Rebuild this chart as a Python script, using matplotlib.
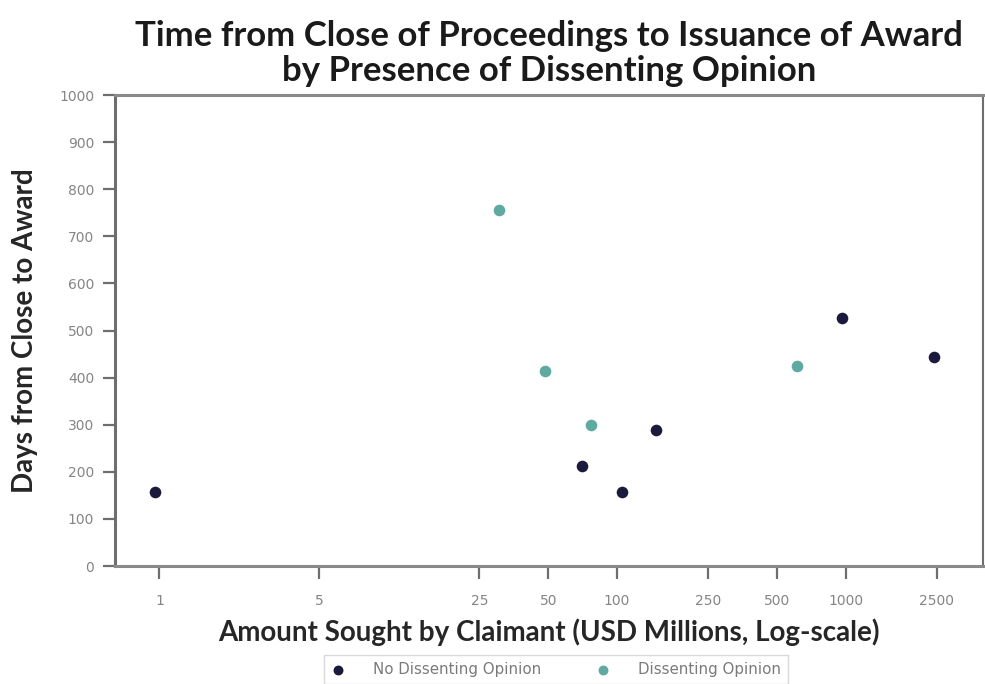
import matplotlib
matplotlib.use("Agg")
import matplotlib.pyplot as plt
from matplotlib.ticker import FixedLocator, FixedFormatter, NullLocator

# Awards without a dissenting opinion
no_dissent_amount = [0.96, 70, 105, 148, 960, 2420]
no_dissent_days = [158, 213, 158, 288, 526, 444]

# Awards with a dissenting opinion
dissent_amount = [30.5, 48.5, 77, 610]
dissent_days = [755, 413, 300, 425]

x_ticks = [1, 5, 25, 50, 100, 250, 500, 1000, 2500]
x_tick_labels = ["1", "5", "25", "50", "100", "250", "500", "1000", "2500"]
y_ticks = list(range(0, 1001, 100))

navy = "#1b1a3c"
teal = "#5fa9a1"
small_font = ["DejaVu Sans"]

plt.rcParams["font.family"] = ["Lato", "DejaVu Sans"]

fig = plt.figure(figsize=(9.85, 6.84), dpi=100)
ax = fig.add_axes([0.1168, 0.1725, 0.881, 0.6886])

ax.scatter(no_dissent_amount, no_dissent_days, s=70, color=navy,
           label="No Dissenting Opinion", zorder=3, linewidths=0)
ax.scatter(dissent_amount, dissent_days, s=70, color=teal,
           label="Dissenting Opinion", zorder=3, linewidths=0)

ax.set_xscale("log")
ax.set_xlim(0.64, 3965)
ax.set_ylim(0, 1000)
ax.xaxis.set_major_locator(FixedLocator(x_ticks))
ax.xaxis.set_major_formatter(FixedFormatter(x_tick_labels))
ax.xaxis.set_minor_locator(NullLocator())
ax.set_yticks(y_ticks)

for side in ["top", "bottom"]:
    ax.spines[side].set_color("#8a8a8a")
    ax.spines[side].set_linewidth(2.2)
ax.spines["left"].set_color("#6e6e6e")
ax.spines["left"].set_linewidth(2.2)
ax.spines["right"].set_color("#6e6e6e")
ax.spines["right"].set_linewidth(1.5)

ax.tick_params(axis="both", which="major", length=9, width=1.6,
               color="#6e6e6e", labelsize=10, labelcolor="#858585")
ax.tick_params(axis="y", pad=6)
ax.tick_params(axis="x", pad=11)
for lab in ax.get_xticklabels() + ax.get_yticklabels():
    lab.set_family(small_font)

ax.set_title("Time from Close of Proceedings to Issuance of Award\n"
             "by Presence of Dissenting Opinion",
             fontsize=25, fontweight="bold", color="#1a1a1a",
             linespacing=1.12, pad=10)
ax.set_xlabel("Amount Sought by Claimant (USD Millions, Log-scale)",
              fontsize=20, fontweight="bold", color="#262626", va="center")
ax.set_ylabel("Days from Close to Award",
              fontsize=20, fontweight="bold", color="#262626", va="center")
ax.xaxis.set_label_coords(0.5, -0.140)
ax.yaxis.set_label_coords(-0.1037, 0.5)

leg = ax.legend(loc="upper center", bbox_to_anchor=(0.508, -0.189), ncol=2,
                prop={"family": small_font, "size": 10.8}, frameon=True,
                fancybox=False, edgecolor="#d0d0d0", columnspacing=3.6,
                handletextpad=1.85, handlelength=1.0, markerscale=0.85,
                borderpad=0.45, borderaxespad=0)
leg.get_frame().set_linewidth(1.0)
for t in leg.get_texts():
    t.set_color("#7a7a7a")

fig.savefig("out.png", dpi=100)
